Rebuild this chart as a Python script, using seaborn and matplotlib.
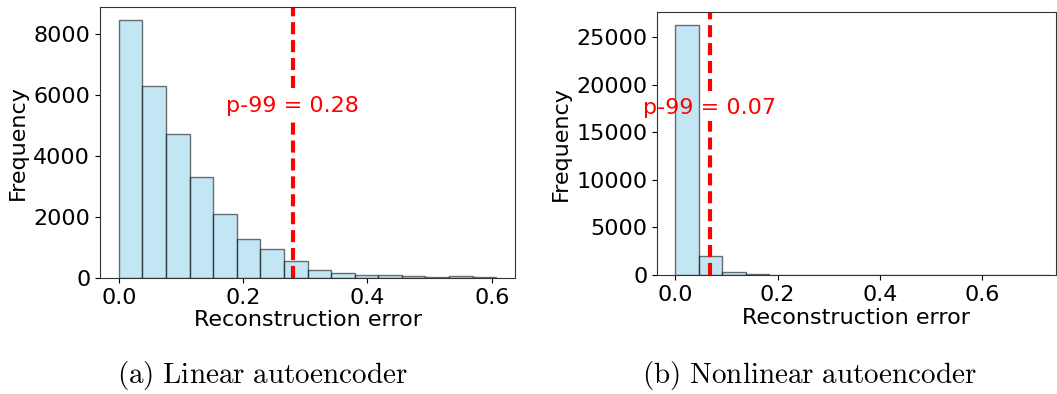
import numpy as np
import pandas as pd
import matplotlib
matplotlib.use("Agg")
import matplotlib.pyplot as plt
import seaborn as sns

# ---- data ----
linear_counts = [8460, 6300, 4720, 3310, 2090, 1280, 940, 550, 250, 175, 100, 100, 80, 30, 50, 25]
linear_range = (0.0, 0.607)
linear_p99 = 0.28
linear_label = "p-99 = 0.28"

nonlinear_counts = [26330, 1950, 315, 105, 30, 12, 6, 4, 3, 2, 2, 1, 1, 1, 1, 1]
nonlinear_range = (0.0, 0.734)
nonlinear_p99 = 0.0675
nonlinear_label = "p-99 = 0.07"

x_label = "Reconstruction error"
y_label = "Frequency"
captions = ["(a) Linear autoencoder", "(b) Nonlinear autoencoder"]

plt.rcParams["mathtext.fontset"] = "cm"

fig = plt.figure(figsize=(10.57, 3.94), dpi=100)
W, H = 1057, 394
def ax_at(l, t, r, b):
    return fig.add_axes([l / W, 1 - b / H, (r - l) / W, (b - t) / H])

ax1 = ax_at(100, 7, 515, 278)
ax2 = ax_at(657, 12, 1056, 275)

def draw(ax, counts, rng, p99, label):
    n = len(counts)
    width = (rng[1] - rng[0]) / n
    centers = rng[0] + width * (np.arange(n) + 0.5)
    df = pd.DataFrame({"x": centers, "w": np.asarray(counts, dtype=float)})
    sns.histplot(data=df, x="x", weights="w", bins=n, binrange=rng, ax=ax,
                 color="skyblue", alpha=0.5, edgecolor=(0, 0, 0, 0.55), linewidth=1.0)
    ytxt = max(counts) * 2 / 3
    ax.set_ylim(0, max(counts) * 1.05)
    frac = ytxt / (max(counts) * 1.05)
    style = dict(color="red", linestyle=(0, (2.9, 1.4)), linewidth=3)
    ax.axvline(p99, ymin=0, ymax=frac - 0.05, **style)
    ax.axvline(p99, ymin=frac + 0.066, ymax=1, **style)
    ax.text(p99, ytxt, label, color="red", fontsize=16, ha="center", va="center")
    ax.set_xlabel(x_label, fontsize=16, labelpad=2)
    ax.set_ylabel(y_label, fontsize=16, labelpad=4)
    ax.tick_params(labelsize=16)
    for s in ax.spines.values():
        s.set_color("#333333")

draw(ax1, linear_counts, linear_range, linear_p99, linear_label)
ax1.set_xticks([0.0, 0.2, 0.4, 0.6])
ax1.set_yticks([0, 2000, 4000, 6000, 8000])

draw(ax2, nonlinear_counts, nonlinear_range, nonlinear_p99, nonlinear_label)
ax2.set_xlim(-0.036, 0.745)
ax2.set_xticks([0.0, 0.2, 0.4, 0.6])
ax2.set_yticks([0, 5000, 10000, 15000, 20000, 25000])

for xc, cap in zip([262, 809], captions):
    fig.text(xc / W, 1 - 376 / H, r"$\mathrm{" + cap.replace(" ", r"\ ") + "}$",
             ha="center", va="center", fontsize=21)

fig.savefig("out.png", dpi=100)
